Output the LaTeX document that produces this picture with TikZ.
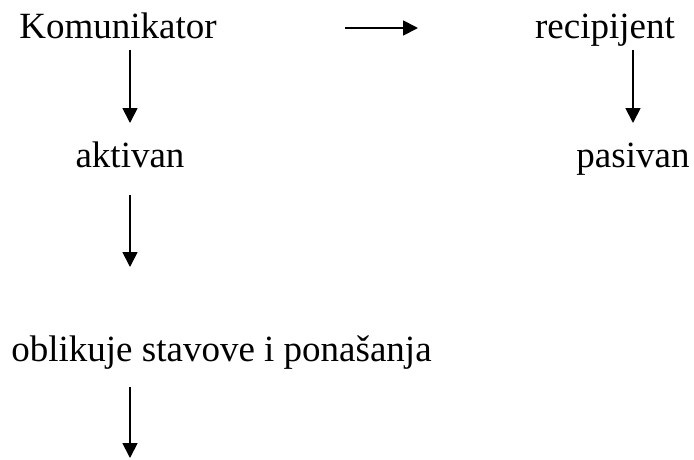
\documentclass[tikz,border=0pt]{standalone}
\usepackage{fontspec}
\setmainfont{Liberation Serif}
\usetikzlibrary{arrows.meta,calc}
\begin{document}
\begin{tikzpicture}[x=1pt,y=-1pt,
  lbl/.style={inner sep=0pt,anchor=base,font=\fontsize{37}{44}\selectfont},
  conn/.style={line width=1.8pt,-{Triangle[length=15pt,width=15pt]}}]
\useasboundingbox (0,0) rectangle (694,459);
\node[lbl] (kom) at (118,38) {Komunikator};
\node[lbl] (rec) at (605,38) {recipijent};
\node[lbl] (akt) at (130,167) {aktivan};
\node[lbl] (pas) at (633,167) {pasivan};
\node[lbl] (obl) at (221.5,361) {oblikuje stavove i ponašanja};
\coordinate (h1) at (345,28);
\coordinate (h2) at (418,28);
\coordinate (k1) at (130,50);
\coordinate (k2) at (130,123);
\coordinate (r1) at (633,50);
\coordinate (r2) at (633,123);
\coordinate (a1) at (130,195);
\coordinate (a2) at (130,267);
\coordinate (o1) at (130,387);
\coordinate (o2) at (130,458);
\draw[conn] (h1) -- (h2);
\draw[conn] (k1) -- (k2);
\draw[conn] (r1) -- (r2);
\draw[conn] (a1) -- (a2);
\draw[conn] (o1) -- (o2);
\end{tikzpicture}
\end{document}
